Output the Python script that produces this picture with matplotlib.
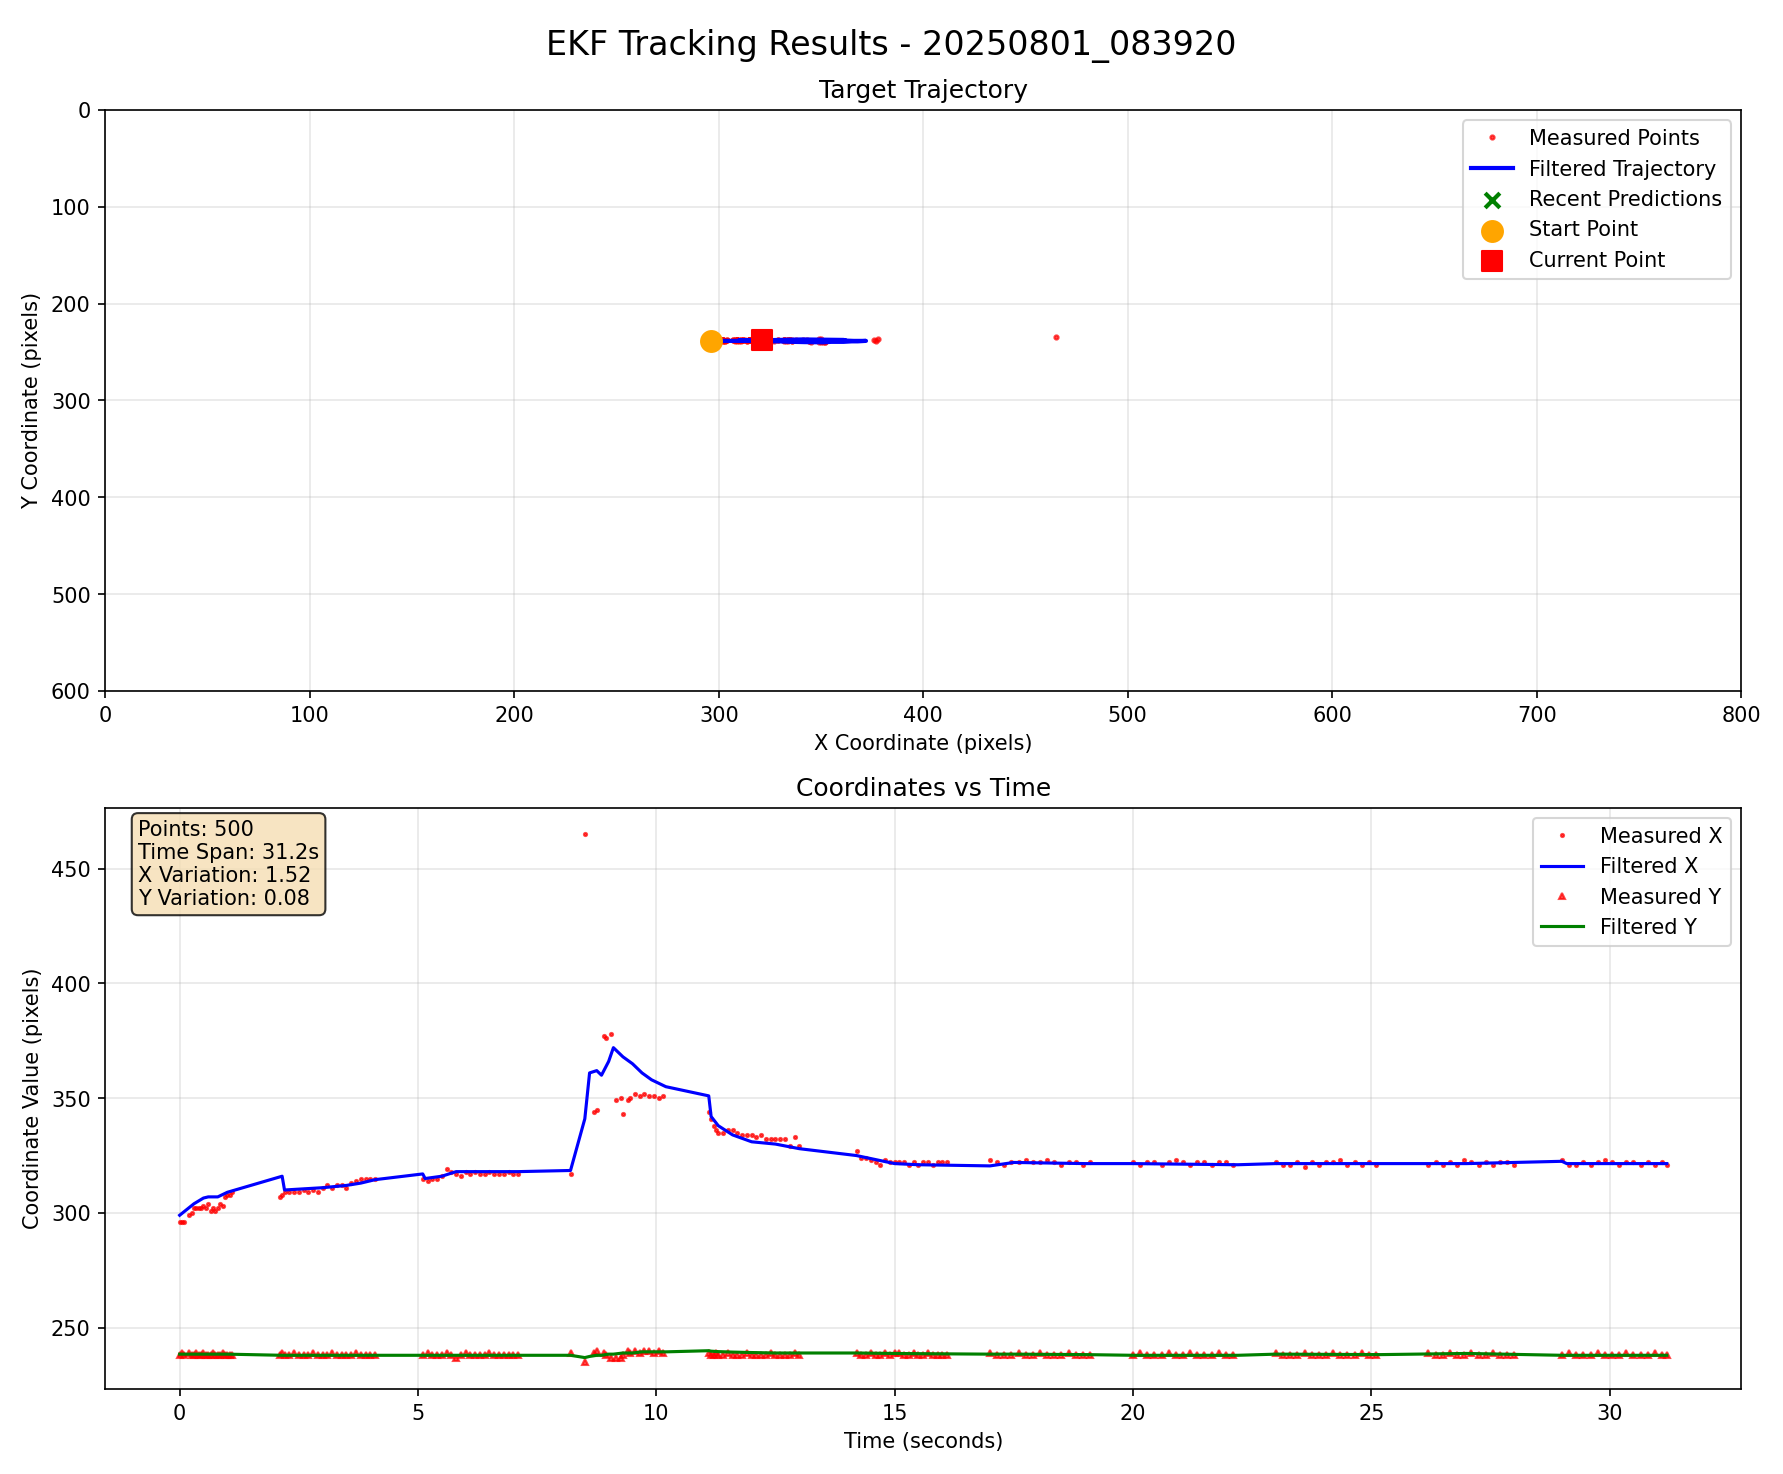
import numpy as np
import matplotlib.pyplot as plt

# measured samples (time, x, y), grouped by burst
t_meas = [
    0.0, 0.05, 0.1, 0.2, 0.25, 0.3, 0.35, 0.4, 0.45, 0.5, 0.55, 0.6, 0.65, 0.7, 0.75, 0.8, 0.85, 0.9, 0.95, 1.0, 1.05, 1.1,
    2.1, 2.15, 2.2, 2.3, 2.4, 2.5, 2.6, 2.7, 2.8, 2.9, 3.0, 3.1, 3.2, 3.3, 3.4, 3.5, 3.6, 3.7, 3.8, 3.9, 4.0, 4.1,
    5.1, 5.2, 5.3, 5.4, 5.5, 5.6, 5.7, 5.8, 5.9, 6.0, 6.1, 6.2, 6.3, 6.4, 6.5, 6.6, 6.7, 6.8, 6.9, 7.0, 7.1,
    8.2, 8.5, 8.7, 8.75, 8.9, 8.95, 9.05, 9.15, 9.25, 9.3, 9.4, 9.45, 9.55, 9.65, 9.75, 9.85, 9.95, 10.05, 10.15,
    11.1, 11.15, 11.2, 11.25, 11.3, 11.4, 11.5, 11.6, 11.7, 11.8, 11.9, 12.0, 12.1, 12.2, 12.3, 12.4, 12.5, 12.6, 12.7, 12.8, 12.9, 13.0,
    14.2, 14.3, 14.4, 14.5, 14.6, 14.7, 14.8, 14.9, 15.0, 15.1, 15.2, 15.3, 15.4, 15.5, 15.6, 15.7, 15.8, 15.9, 16.0, 16.1,
    17.0, 17.15, 17.3, 17.45, 17.6, 17.75, 17.9, 18.05, 18.2, 18.35, 18.5, 18.65, 18.8, 18.95, 19.1,
    20.0, 20.15, 20.3, 20.45, 20.6, 20.75, 20.9, 21.05, 21.2, 21.35, 21.5, 21.65, 21.8, 21.95, 22.1,
    23.0, 23.15, 23.3, 23.45, 23.6, 23.75, 23.9, 24.05, 24.2, 24.35, 24.5, 24.65, 24.8, 24.95, 25.1,
    26.2, 26.35, 26.5, 26.65, 26.8, 26.95, 27.1, 27.25, 27.4, 27.55, 27.7, 27.85, 28.0,
    29.0, 29.15, 29.3, 29.45, 29.6, 29.75, 29.9, 30.05, 30.2, 30.35, 30.5, 30.65, 30.8, 30.95, 31.1, 31.2,
]
x_meas = [
    296, 296, 296, 299, 300, 302, 302, 302, 302, 303, 302, 304, 301, 302, 301, 302, 304, 303, 307, 308, 308, 309,
    307, 308, 309, 309, 309, 309, 310, 309, 310, 309, 311, 312, 311, 312, 312, 311, 313, 314, 315, 315, 315, 315,
    315, 314, 315, 315, 316, 319, 318, 317, 316, 318, 317, 318, 317, 317, 318, 317, 317, 317, 318, 317, 317,
    317, 465, 344, 345, 377, 376, 378, 349, 350, 343, 349, 350, 352, 351, 352, 351, 351, 350, 351,
    344, 341, 338, 336, 335, 335, 336, 336, 335, 334, 334, 334, 333, 334, 332, 332, 332, 332, 332, 329, 333, 329,
    327, 324, 324, 323, 322, 321, 323, 322, 322, 322, 322, 321, 322, 321, 322, 322, 321, 322, 322, 322,
    323, 322, 321, 322, 322, 323, 322, 322, 323, 322, 321, 322, 322, 321, 322,
    322, 321, 322, 322, 321, 322, 323, 322, 321, 322, 322, 321, 322, 322, 321,
    322, 321, 321, 322, 320, 322, 321, 322, 322, 323, 321, 322, 321, 322, 321,
    321, 322, 321, 322, 321, 323, 322, 321, 322, 321, 322, 322, 321,
    323, 321, 321, 322, 321, 322, 323, 322, 321, 322, 322, 321, 322, 321, 322, 321,
]
y_meas = [
    238, 239, 238, 239, 238, 238, 239, 238, 238, 239, 238, 238, 238, 239, 238, 238, 238, 239, 238, 238, 238, 238,
    238, 239, 238, 238, 239, 238, 238, 238, 239, 238, 238, 238, 239, 238, 238, 238, 238, 239, 238, 238, 238, 238,
    238, 239, 238, 238, 238, 239, 238, 237, 238, 239, 238, 238, 238, 238, 239, 238, 238, 238, 238, 238, 238,
    239, 235, 239, 240, 239, 238, 237, 237, 237, 238, 240, 239, 240, 239, 240, 240, 239, 240, 239,
    239, 238, 238, 239, 238, 238, 239, 238, 238, 238, 239, 238, 238, 238, 238, 239, 238, 238, 238, 238, 239, 238,
    239, 238, 238, 239, 238, 238, 239, 238, 239, 239, 238, 238, 239, 238, 238, 239, 238, 238, 238, 238,
    239, 238, 238, 238, 239, 238, 238, 239, 238, 238, 238, 239, 238, 238, 238,
    238, 239, 238, 238, 238, 239, 238, 238, 239, 238, 238, 238, 239, 238, 238,
    239, 238, 238, 238, 239, 238, 238, 238, 239, 238, 238, 238, 239, 238, 238,
    239, 238, 238, 239, 238, 238, 239, 238, 238, 239, 238, 238, 238,
    238, 239, 238, 238, 238, 239, 238, 238, 238, 239, 238, 238, 238, 239, 238, 238,
]

# filtered (EKF) trajectory vertices
t_filt = [0, 0.3, 0.5, 0.6, 0.8, 0.9, 1.0, 2.15, 2.2, 3.0, 3.5, 3.8, 4.1, 5.1, 5.15, 5.5, 5.8, 6.5, 7.1,
          8.2, 8.5, 8.6, 8.75, 8.85, 9.0, 9.1, 9.3, 9.5, 9.7, 9.9, 10.2, 11.1, 11.15, 11.3, 11.6, 12.0, 12.5, 13.0,
          14.2, 15.0, 15.5, 17.0, 17.5, 19.0, 20.0, 22.2, 23.0, 25.2, 27.0, 29.0, 29.1, 31.2]
x_filt = [299, 304, 306.5, 307, 307, 308, 309, 316, 310, 311, 312, 313, 314.5, 317, 315, 316, 318, 318, 318,
          318.5, 341, 361, 362, 360, 366, 372, 368, 365, 361, 358, 355, 351, 342, 338, 334, 331, 330, 328,
          325, 321.5, 321, 320.5, 322, 321.5, 321.5, 321, 321.5, 321.5, 321.5, 322.5, 321.5, 321.5]
y_filt = [238.5] * 7 + [238] * 12 + [238, 237, 237.5, 238, 238, 238.5, 238.5, 239, 239, 239.5, 239.5, 239.5,
          240, 239.8, 239.6, 239.4, 239.2, 239, 239, 239, 238.8, 238.7, 238.5, 238.5, 238.3,
          238, 238, 238.5, 238.3, 238.8, 238, 238, 238]

x_pred = [321.5, 321.6, 321.4]
y_pred = [238.0, 238.1, 238.0]
start_pt = (296, 239)
current_pt = (321, 238)

stats = "Points: 500\nTime Span: 31.2s\nX Variation: 1.52\nY Variation: 0.08"

fig, (ax1, ax2) = plt.subplots(2, 1, figsize=(11.89, 9.83), dpi=150)
fig.suptitle('EKF Tracking Results - 20250801_083920', fontsize=16)

ax1.plot(x_meas, y_meas, 'r.', markersize=4, alpha=0.7, label='Measured Points')
ax1.plot(x_filt, y_filt, 'b-', linewidth=2, label='Filtered Trajectory')
ax1.scatter(x_pred, y_pred, c='green', marker='x', s=50, linewidths=2, label='Recent Predictions')
ax1.scatter(*start_pt, c='orange', s=100, zorder=5, label='Start Point')
ax1.scatter(*current_pt, c='red', marker='s', s=100, zorder=5, label='Current Point')
ax1.set_xlim(0, 800)
ax1.set_ylim(600, 0)
ax1.set_xlabel('X Coordinate (pixels)')
ax1.set_ylabel('Y Coordinate (pixels)')
ax1.set_title('Target Trajectory')
ax1.legend(loc='upper right')
ax1.grid(True, alpha=0.3)

ax2.plot(t_meas, x_meas, 'r.', markersize=3, alpha=0.7, label='Measured X')
ax2.plot(t_filt, x_filt, 'b-', linewidth=1.5, label='Filtered X')
ax2.plot(t_meas, y_meas, 'r^', markersize=3, alpha=0.7, label='Measured Y')
ax2.plot(t_filt, y_filt, 'g-', linewidth=1.5, label='Filtered Y')
ax2.set_xlabel('Time (seconds)')
ax2.set_ylabel('Coordinate Value (pixels)')
ax2.set_title('Coordinates vs Time')
ax2.legend(loc='upper right')
ax2.grid(True, alpha=0.3)
ax2.text(0.02, 0.98, stats, transform=ax2.transAxes, va='top',
         bbox=dict(boxstyle='round', facecolor='wheat', alpha=0.8))

plt.tight_layout()
plt.savefig('out.png')
